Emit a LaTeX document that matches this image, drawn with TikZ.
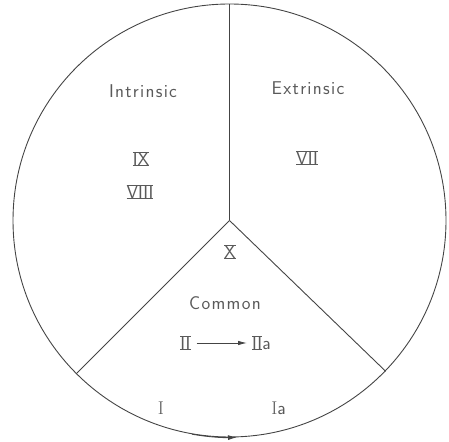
\documentclass[tikz,border=0pt]{standalone}
\usepackage{fontspec}
\usetikzlibrary{arrows.meta}
\definecolor{ink}{HTML}{444444}
\definecolor{txt}{HTML}{5A5A5A}
\newcommand\romn[1]{\setbox0\hbox{#1}\rlap{\rule[-0.35pt]{\wd0}{0.7pt}}\rlap{\rule[\dimexpr\ht0-0.35pt\relax]{\wd0}{0.7pt}}\box0}
\ExplSyntaxOn
\NewDocumentCommand\lsp{m}{\tl_map_inline:nn{#1}{##1\kern1.3pt}\unkern}
\ExplSyntaxOff
\tikzset{
  lbl/.style={text=txt, inner sep=0pt, font=\sffamily\fontsize{18.5}{21}\selectfont},
  rom/.style={text=txt, inner sep=0pt, font=\sffamily\fontsize{18.5}{21}\selectfont},
  edge/.style={draw=ink, line width=0.9pt},
}
\begin{document}
\begin{tikzpicture}[x=1pt,y=1pt]
\useasboundingbox (0,0) rectangle (449,441);
\node[circle, edge, minimum size=433pt, inner sep=0pt] (C) at (229.5,220.5) {};
\draw[edge] (C.center) -- (C.90);
\draw[edge] (C.center) -- (C.225);
\draw[edge] (C.center) -- (C.-44);
\draw[edge, -{Latex[length=9pt,width=5pt]}] (C.-100) arc[start angle=-100, end angle=-88, radius=216.5pt];
\node[lbl] (intr) at (143,350) {\lsp{Intrinsic}};
\node[lbl] (extr) at (308,353) {\lsp{Extrinsic}};
\node[lbl] (comm) at (225,138) {\lsp{Common}};
\node[rom] (ix) at (141,282) {\romn{IX}};
\node[rom] (viii) at (140,249) {\romn{VIII}};
\node[rom] (vii) at (307,283) {\romn{VII}};
\node[rom] (x) at (230,189) {\romn{X}};
\node[rom] (ii) at (185.5,98) {\romn{II}};
\node[rom, anchor=west] (iia) at (252,98) {\romn{II}a};
\node[rom] (i) at (161,33) {\rmfamily I};
\node[rom] (ia) at (278.5,33) {\rmfamily I\sffamily a};
\draw[edge, -{Latex[length=9pt,width=4.5pt]}, shorten <=6pt, shorten >=5pt] (ii.east) -- (iia.west);
\end{tikzpicture}
\end{document}
